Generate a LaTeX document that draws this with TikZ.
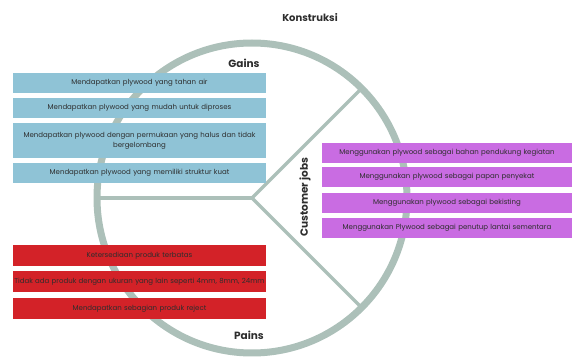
\documentclass[tikz,border=0pt]{standalone}
\usepackage{fontspec}
\setmainfont{Poppins}
\definecolor{ringc}{RGB}{172,192,185}
\definecolor{gainc}{RGB}{143,195,214}
\definecolor{painc}{RGB}{211,34,40}
\definecolor{jobc}{RGB}{201,108,226}
\definecolor{txtc}{RGB}{45,45,45}
\tikzset{
  box/.style={rectangle, inner sep=1pt, align=center, font=\fontsize{7}{10}\selectfont, text=txtc},
  gainbox/.style={box, fill=gainc, minimum width=253pt, text width=245pt},
  painbox/.style={box, fill=painc, minimum width=253pt, text width=251pt},
  jobbox/.style={box, fill=jobc, minimum width=250pt, text width=245pt, minimum height=20pt},
  title/.style={font=\fontsize{10.5}{12}\selectfont\bfseries, text=txtc},
  divider/.style={ringc, line width=3.5pt},
}
\begin{document}
\begin{tikzpicture}[x=1pt,y=-1pt]
\useasboundingbox (0,0) rectangle (574,358);
\coordinate (c) at (252,198);
\coordinate (ur) at (252+109,198-109);
\coordinate (lr) at (252+109,198+109);
\coordinate (lf) at (97,198);
\draw[ringc, line width=7pt] (c) circle (155pt);
\draw[divider] (c) -- (ur);
\draw[divider] (c) -- (lr);
\draw[divider] (c) -- (lf);
% titles
\node[title, font=\fontsize{10}{12}\selectfont\bfseries] (kon) at (310,18) {Konstruksi};
\node[title] (gains) at (244,63) {Gains};
\node[title] (pains) at (249,335) {Pains};
\node[title, rotate=90] (jobs) at (305,197) {Customer jobs};
% gains
\node[gainbox, minimum height=20pt] (g1) at (139.5,83) {Mendapatkan plywood yang tahan air};
\node[gainbox, minimum height=20pt] (g2) at (139.5,108) {Mendapatkan plywood yang mudah untuk diproses};
\node[gainbox, minimum height=35pt] (g3) at (139.5,140.5) {Mendapatkan plywood dengan permukaan yang halus dan tidak\\bergelombang};
\node[gainbox, minimum height=20pt] (g4) at (139.5,173) {Mendapatkan plywood yang memiliki struktur kuat};
% pains
\node[painbox, minimum height=21pt] (p1) at (139.5,255.5) {Ketersediaan produk terbatas};
\node[painbox, minimum height=21pt] (p2) at (139.5,281.5) {\makebox[\linewidth]{Tidak ada produk dengan ukuran yang lain seperti 4mm, 8mm, 24mm}};
\node[painbox, minimum height=21pt] (p3) at (139.5,308.5) {Mendapatkan sebagian produk reject};
% jobs
\node[jobbox] (j1) at (447,153) {Menggunakan plywood sebagai bahan pendukung kegiatan};
\node[jobbox] (j2) at (447,177) {Menggunakan plywood sebagai papan penyekat};
\node[jobbox] (j3) at (447,203) {Menggunakan plywood sebagai bekisting};
\node[jobbox] (j4) at (447,228) {Menggunakan Plywood sebagai penutup lantai sementara};
\end{tikzpicture}
\end{document}
